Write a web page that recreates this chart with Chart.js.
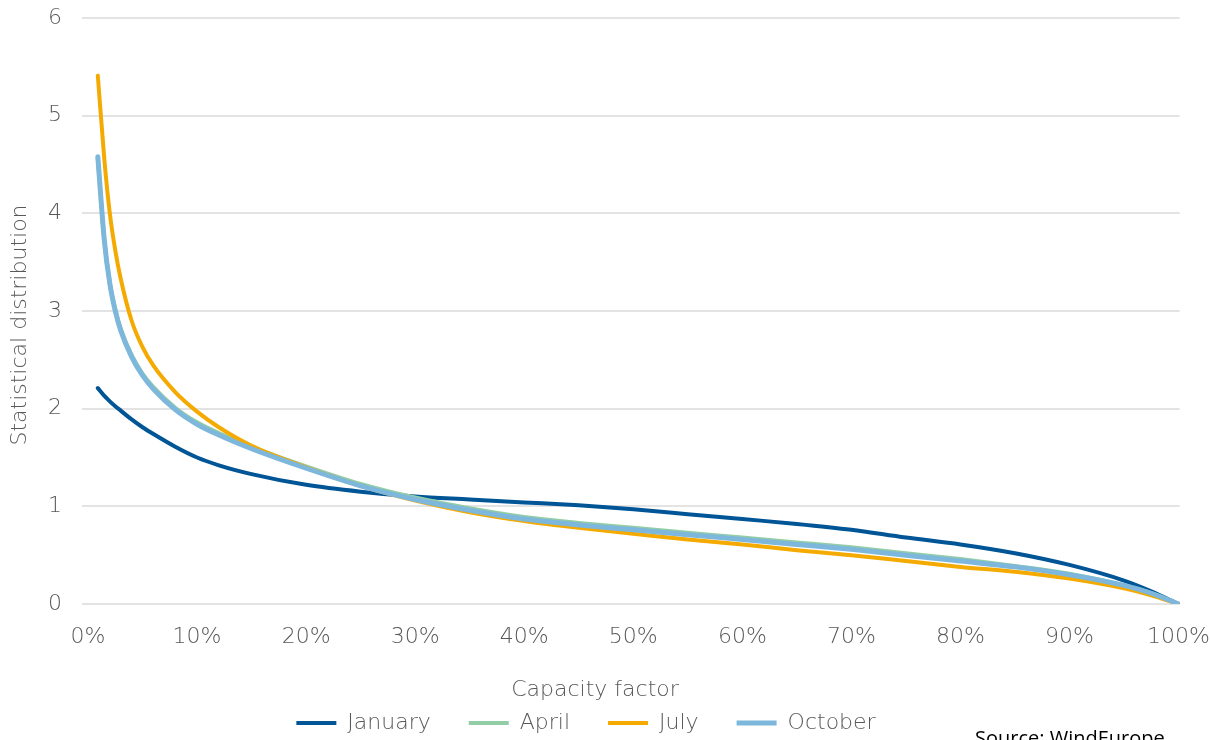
<!DOCTYPE html>
<html>
<head>
<meta charset="utf-8">
<script src="https://cdn.jsdelivr.net/npm/chart.js@4"></script>
<style>
  html, body { margin: 0; padding: 0; background: #fff; }
  #wrap { width: 1210px; height: 740px; }
</style>
</head>
<body>
<div id="wrap"><canvas id="chart" width="1210" height="740"></canvas></div>
<script>
// capacity factor (%) where each curve is sampled
const capacity = [0.9, 1.5, 2, 2.5, 3, 4, 5, 6, 8, 10, 12, 15, 20, 25, 30, 35, 40, 45, 50, 55, 60, 65, 70, 75, 80, 85, 90, 95, 97.5, 100];

const january = [2.21, 2.13, 2.075, 2.025, 1.98, 1.89, 1.81, 1.74, 1.61, 1.50, 1.42, 1.33, 1.22, 1.15, 1.10, 1.07, 1.04, 1.01, 0.97, 0.92, 0.87, 0.82, 0.76, 0.68, 0.61, 0.52, 0.40, 0.24, 0.13, 0];
const april   = [4.56, 3.72, 3.29, 3.02, 2.82, 2.55, 2.36, 2.22, 2.01, 1.86, 1.75, 1.61, 1.41, 1.23, 1.09, 0.98, 0.89, 0.83, 0.78, 0.73, 0.68, 0.63, 0.58, 0.52, 0.46, 0.39, 0.31, 0.19, 0.11, 0];
const july    = [5.41, 4.55, 4.00, 3.62, 3.33, 2.90, 2.63, 2.44, 2.17, 1.97, 1.81, 1.62, 1.40, 1.21, 1.06, 0.94, 0.85, 0.78, 0.72, 0.66, 0.61, 0.55, 0.50, 0.44, 0.38, 0.33, 0.26, 0.16, 0.09, 0];
const october = [4.58, 3.72, 3.28, 3.00, 2.80, 2.53, 2.34, 2.20, 1.99, 1.84, 1.73, 1.59, 1.39, 1.21, 1.07, 0.96, 0.87, 0.81, 0.76, 0.71, 0.66, 0.61, 0.56, 0.50, 0.44, 0.38, 0.30, 0.19, 0.11, 0];

const xTicks = [0, 10, 20, 30, 40, 50, 60, 70, 80, 90, 100];
const yTicks = [0, 1, 2, 3, 4, 5, 6];

const xTitle = 'Capacity factor';
const yTitle = 'Statistical distribution';
const sourceText = 'Source: WindEurope';

const textColor = '#595959';
const fontFamily = "'DejaVu Sans', sans-serif";

function series(values) {
    return values.map((v, i) => ({ x: capacity[i], y: v }));
}

// axis titles and the source note, placed where the original has them
const chartTexts = {
    id: 'chartTexts',
    afterDraw(chart) {
        const ctx = chart.ctx;
        ctx.save();
        ctx.fillStyle = textColor;
        ctx.font = "200 22px " + fontFamily;
        ctx.textAlign = 'center';
        ctx.textBaseline = 'middle';
        ctx.fillText(xTitle, 595, 690);

        ctx.save();
        ctx.translate(20, 325);
        ctx.rotate(-Math.PI / 2);
        ctx.fillText(yTitle, 0, 0);
        ctx.restore();

        ctx.fillStyle = '#000';
        ctx.font = "20px 'Open Sans', sans-serif";
        ctx.textBaseline = 'top';
        ctx.textAlign = 'left';
        ctx.fillText(sourceText, 975, 729);
        ctx.restore();
    }
};

const ctx = document.getElementById('chart').getContext('2d');
new Chart(ctx, {
    type: 'line',
    data: {
        datasets: [
            { label: 'January', data: series(january), borderColor: '#005596', backgroundColor: '#005596', borderWidth: 4, order: 4 },
            { label: 'April', data: series(april), borderColor: '#93CDA6', backgroundColor: '#93CDA6', borderWidth: 4, order: 3 },
            { label: 'July', data: series(july), borderColor: '#F4AA00', backgroundColor: '#F4AA00', borderWidth: 4, order: 2 },
            { label: 'October', data: series(october), borderColor: '#7DB7DB', backgroundColor: '#7DB7DB', borderWidth: 5, order: 1 }
        ]
    },
    options: {
        responsive: false,
        animation: false,
        devicePixelRatio: 1,
        // negative left padding shifts the centred legend to where the original has it
        layout: { padding: { top: 18, right: 0, left: -38, bottom: -4 } },
        elements: {
            point: { radius: 0 },
            line: { cubicInterpolationMode: 'monotone', borderCapStyle: 'round', borderJoinStyle: 'round', fill: false }
        },
        plugins: {
            tooltip: { enabled: false },
            legend: {
                display: true,
                position: 'bottom',
                labels: {
                    usePointStyle: true,
                    pointStyle: 'line',
                    pointStyleWidth: 40,
                    padding: 38,
                    color: textColor,
                    font: { family: fontFamily, size: 22, weight: '200' },
                    sort: (a, b) => a.datasetIndex - b.datasetIndex
                }
            }
        },
        scales: {
            x: {
                type: 'linear',
                min: -0.55,
                max: 100.1,
                afterBuildTicks: scale => { scale.ticks = xTicks.map(v => ({ value: v })); },
                afterFit: scale => { scale.height = 70; },
                grid: { display: false, drawTicks: true, tickLength: 20, tickColor: 'rgba(0,0,0,0)' },
                border: { display: false },
                ticks: {
                    padding: 0,
                    maxRotation: 0,
                    color: textColor,
                    font: { family: fontFamily, size: 22, weight: '200' },
                    callback: v => v + '%'
                },
                title: { display: false }
            },
            y: {
                min: 0,
                max: 6,
                afterBuildTicks: scale => { scale.ticks = yTicks.map(v => ({ value: v })); },
                afterFit: scale => { scale.width = 120; },
                grid: { color: '#E3E3E3', lineWidth: 2, drawTicks: true, tickLength: 17, tickColor: 'rgba(0,0,0,0)' },
                border: { display: false },
                ticks: {
                    padding: 3,
                    color: textColor,
                    font: { family: fontFamily, size: 22, weight: '200' }
                },
                title: { display: false }
            }
        }
    },
    plugins: [chartTexts]
});
</script>
</body>
</html>
